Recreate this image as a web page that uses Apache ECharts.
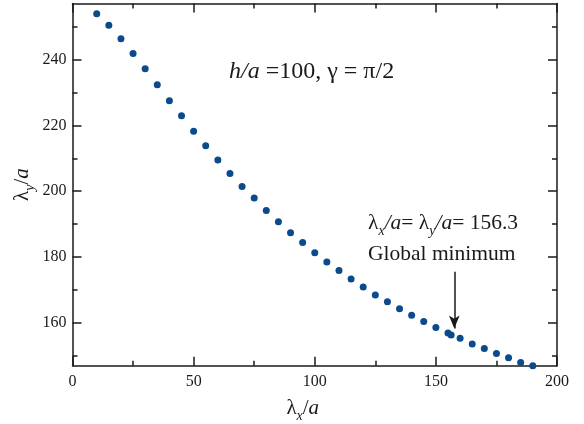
<!DOCTYPE html>
<html>
<head>
    <meta charset="utf-8">
    <title>lambda scan</title>
    <script src="https://cdn.jsdelivr.net/npm/echarts@6/dist/echarts.min.js"></script>
    <style>
        body { margin: 0; background: #fff; }
        #main { width: 584px; height: 424px; }
    </style>
</head>
<body>
<div id="main"></div>
<script type="text/javascript">
    // λx/a 取样点
    var lamX = [10, 15, 20, 25, 30, 35, 40, 45, 50, 55, 60, 65, 70, 75, 80, 85, 90, 95,
        100, 105, 110, 115, 120, 125, 130, 135, 140, 145, 150, 155, 156.3,
        160, 165, 170, 175, 180, 185, 190];
    // λy/a 对应值
    var lamY = [253.9, 250.4, 246.3, 241.8, 237.2, 232.3, 227.5, 222.9, 218.2, 213.8,
        209.5, 205.4, 201.4, 197.9, 194.1, 190.7, 187.4, 184.4, 181.3, 178.5,
        175.9, 173.3, 170.9, 168.5, 166.4, 164.3, 162.3, 160.4, 158.6, 156.9, 156.3,
        155.3, 153.6, 152.2, 150.7, 149.4, 148.0, 147.0];
    var yMajor = [160, 180, 200, 220, 240];
    var yMinor = [150, 170, 190, 210, 230, 250];
    var minPoint = [157.6, 175.5, 158.3]; // 箭头 x, 起点 y, 终点 y

    var pts = [];
    for (var i = 0; i < lamX.length; i++) {
        pts.push([lamX[i], lamY[i]]);
    }

    var font = 'Liberation Serif';
    var ink = '#1a1a1a';
    var lineSt = {show: true, lineStyle: {color: ink, width: 1.5}};

    function xAx(pos, labels) {
        return {
            type: 'value', position: pos, min: 0, max: 200, interval: 50,
            axisLine: lineSt,
            axisTick: {inside: true, length: 9, lineStyle: {color: ink, width: 1.5}},
            minorTick: {show: true, splitNumber: 2, length: 5, lineStyle: {color: ink, width: 1.5}},
            splitLine: {show: false},
            axisLabel: {show: labels, fontFamily: font, fontSize: 16, color: ink, margin: 8}
        };
    }

    function yAx(pos, ticks, len, labels, line) {
        return {
            type: 'value', position: pos, min: 147, max: 257,
            axisLine: line ? lineSt : {show: false},
            axisTick: {inside: true, length: len, customValues: ticks,
                lineStyle: {color: ink, width: 1.5}},
            splitLine: {show: false},
            axisLabel: {show: labels, customValues: ticks, fontFamily: font, fontSize: 16,
                color: ink, margin: 6}
        };
    }

    var nameRich = {
        l: {fontFamily: font, fontSize: 21, color: ink, lineHeight: 20, verticalAlign: 'top'},
        i: {fontFamily: font, fontSize: 21, fontStyle: 'italic', color: ink, lineHeight: 20, verticalAlign: 'top'},
        s: {fontFamily: font, fontSize: 14, fontStyle: 'italic', color: ink, lineHeight: 26, verticalAlign: 'bottom'}
    };

    var bottomX = xAx('bottom', true);
    bottomX.name = '{l|λ}{s|x}{l|/}{i|a}';
    bottomX.nameLocation = 'middle';
    bottomX.nameGap = 32;
    bottomX.nameTextStyle = {rich: nameRich, padding: [0, 24, 0, 0]};

    var leftY = yAx('left', yMajor, 9, true, true);
    leftY.name = '{l|λ}{s|y}{l|/}{i|a}';
    leftY.nameLocation = 'middle';
    leftY.nameRotate = 90;
    leftY.nameGap = 35;
    leftY.nameMoveOverlap = false;
    leftY.nameTextStyle = {rich: nameRich};

    var myChart = echarts.init(document.getElementById('main'));
    var option = {
        animation: false,
        grid: {left: 72.5, right: 27, top: 3.5, bottom: 58.3, containLabel: false, outerBoundsMode: 'none'},
        xAxis: [bottomX, xAx('top', false)],
        yAxis: [
            leftY,
            yAx('left', yMinor, 5, false, false),
            yAx('right', yMajor, 9, false, true),
            yAx('right', yMinor, 5, false, false)
        ],
        graphic: [
            {
                type: 'text', left: 229, top: 60,
                style: {
                    text: '{i|h/a} =100, γ = π/2',
                    fontFamily: font, fontSize: 24, fill: ink,
                    rich: {i: {fontFamily: font, fontSize: 24, fontStyle: 'italic', fill: ink}}
                }
            },
            {
                type: 'text', left: 368, top: 212,
                style: {
                    text: '{l|λ}{s|x}{i|/a}{l|= λ}{s|y}{i|/a}{l|= 156.3}',
                    rich: {
                        l: {fontFamily: font, fontSize: 21.5, fill: ink, lineHeight: 20, verticalAlign: 'top'},
                        i: {fontFamily: font, fontSize: 21.5, fontStyle: 'italic', fill: ink, lineHeight: 20, verticalAlign: 'top'},
                        s: {fontFamily: font, fontSize: 14, fontStyle: 'italic', fill: ink, lineHeight: 26, verticalAlign: 'bottom'}
                    }
                }
            },
            {
                type: 'text', left: 368, top: 243,
                style: {text: 'Global minimum', fontFamily: font, fontSize: 21.5, fill: ink}
            }
        ],
        series: [{
            type: 'scatter',
            data: pts,
            clip: false,
            symbolSize: 7,
            itemStyle: {color: '#0b4a8b', opacity: 1},
            markLine: {
                silent: true,
                symbol: ['none', 'arrow'],
                symbolSize: [8, 13],
                label: {show: false},
                lineStyle: {color: ink, width: 1.5, type: 'solid'},
                data: [[
                    {coord: [minPoint[0], minPoint[1]]},
                    {coord: [minPoint[0], minPoint[2]]}
                ]]
            }
        }]
    };
    myChart.setOption(option);
</script>
</body>
</html>
